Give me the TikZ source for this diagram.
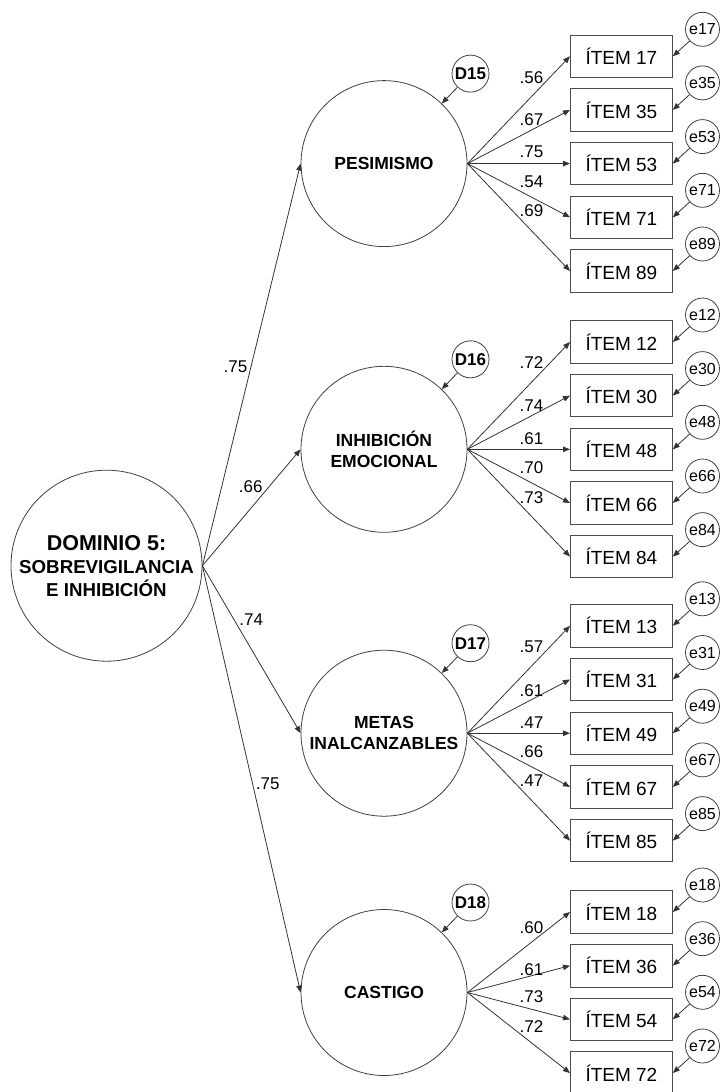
\documentclass[tikz,border=0pt]{standalone}
\usepackage{fontspec}
\setmainfont{Liberation Sans}
\usetikzlibrary{arrows.meta}
\tikzset{
  lat/.style={circle, draw=black!75, line width=0.8pt, minimum size=166pt, inner sep=0pt, align=center,
    font=\fontsize{17.5}{21}\selectfont\bfseries},
  dom/.style={circle, draw=black!75, line width=0.8pt, minimum size=191pt, inner sep=0pt, align=center,
    font=\fontsize{18.7}{23}\selectfont\bfseries},
  itembox/.style={rectangle, draw=black!70, line width=0.8pt, minimum width=102pt, minimum height=42.5pt,
    inner sep=0pt, font=\fontsize{19}{22}\selectfont},
  errc/.style={circle, draw=black!75, line width=0.8pt, minimum size=34pt, inner sep=0pt,
    font=\fontsize{16}{18}\selectfont},
  distc/.style={circle, draw=black!75, line width=0.8pt, minimum size=37pt, inner sep=0pt,
    font=\fontsize{17}{19}\selectfont\bfseries},
  lbl/.style={inner sep=0pt, font=\fontsize{17}{19}\selectfont},
  arr/.style={draw=black!80, line width=0.8pt, -{Triangle[length=7pt,width=5.5pt]}},
}
\begin{document}
\begin{tikzpicture}[x=1pt,y=-1pt]
\useasboundingbox (0,0) rectangle (724,1092);

% second-order factor
\node[dom] (dom) at (106.5,565.7) {{\fontsize{21.5}{23}\selectfont DOMINIO 5:}\\SOBREVIGILANCIA\\E INHIBICIÓN};

% first-order factors
\node[lat] (L1) at (384,163.6) {PESIMISMO};
\node[lat] (L2) at (384,449.3) {INHIBICIÓN\\EMOCIONAL};
\node[lat] (L3) at (384,733.2) {METAS\\INALCANZABLES};
\node[lat] (L4) at (384,992.5) {CASTIGO};

% disturbances
\node[distc] (D15) at (470.5,73.6) {D15};
\node[distc] (D16) at (470.5,359.3) {D16};
\node[distc] (D17) at (470.5,643.2) {D17};
\node[distc] (D18) at (470.5,902.5) {D18};
\foreach \d/\l in {D15/L1,D16/L2,D17/L3,D18/L4} \draw[arr] (\d) -- (\l);

% structural paths
\draw[arr] (dom.east) -- (L1.west);
\draw[arr] (dom.east) -- (L2.west);
\draw[arr] (dom.east) -- (L3.west);
\draw[arr] (dom.east) -- (L4.west);
\node[lbl] (s1) at (235.5,366.7) {.75};
\node[lbl] (s2) at (250.8,486.3) {.66};
\node[lbl] (s3) at (251.3,620) {.74};
\node[lbl] (s4) at (267.7,783.3) {.75};

% items, errors and loadings
\foreach \n/\y/\v/\ly/\L in {
  17/56.3/.56/77.5/L1, 35/109.9/.67/120/L1, 53/163.6/.75/152/L1, 71/217.3/.54/182/L1, 89/271.0/.69/211/L1,
  12/342/.72/362.8/L2, 30/395.6/.74/405.8/L2, 48/449.3/.61/438.8/L2, 66/503/.70/467.5/L2, 84/556.6/.73/497.5/L2,
  13/625.8/.57/646.3/L3, 31/679.5/.61/690.8/L3, 49/733.2/.47/723/L3, 67/786.9/.66/751.5/L3, 85/840.6/.47/780.8/L3,
  18/912/.60/927.3/L4, 36/965.7/.61/970/L4, 54/1019.3/.73/996.7/L4, 72/1073/.72/1026.7/L4}{
  \node[itembox] (I\n) at (621.4,\y) {ÍTEM \n};
  \node[errc] (e\n) at (702.5,\y-27) {e\n};
  \draw[arr] (\L.east) -- (I\n.west);
  \draw[arr] (e\n) -- (I\n.east);
  \node[lbl] (l\n) at (531.5,\ly) {\v};
}
\end{tikzpicture}
\end{document}
